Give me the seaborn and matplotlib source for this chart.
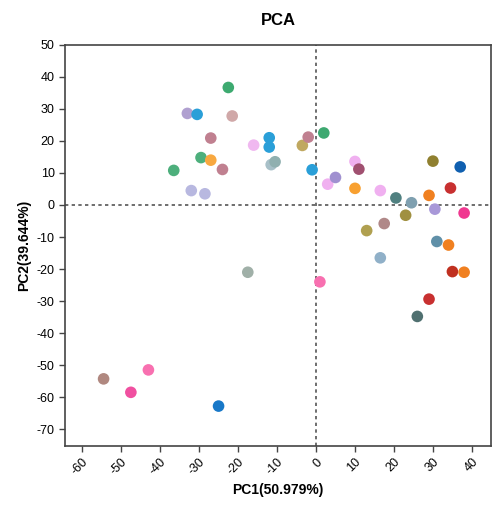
import matplotlib
matplotlib.use("Agg")
import matplotlib.pyplot as plt
import seaborn as sns
import pandas as pd

pc1 = [-36.5,-33,-30.5,-32,-29.5,-28.5,-27,-27,-24,-22.5,-21.5,-16,-12,-12,-11.5,-10.5,-3.5,-2,-1,2,
       3,5,10,11,10,16.5,20.5,24.5,23,13,17.5,30,29,34.5,37,30.5,38,31,34,16.5,35,38,29,26,
       -17.5,1,-54.5,-47.5,-43,-25]
pc2 = [10.8,28.6,28.3,4.5,14.8,3.5,20.9,14,11.1,36.7,27.8,18.7,21,18.1,12.6,13.5,18.6,21.2,11,22.5,
       6.5,8.6,13.6,11.2,5.2,4.5,2.2,0.7,-3.2,-8,-5.8,13.7,3,5.3,11.9,-1.3,-2.5,-11.4,-12.5,-16.5,
       -20.8,-21,-29.4,-34.8,-21,-24,-54.3,-58.5,-51.5,-62.8]
colors = ["#4daf7c","#b0a0d0","#2a9fd8","#b8b8e0","#4daf7c","#b8b8e0","#c08090","#f8a840","#c08090","#3daa70",
          "#d0a8a8","#f0b8f0","#2a9fd8","#2a9fd8","#a8c0c8","#90b0b0","#c0a860","#c08090","#2a9fd8","#3da870",
          "#f0b0f0","#a090d0","#f0b0f0","#a05070","#f8a030","#f0b0f0","#508080","#7fa0b0","#a09040","#b0a050",
          "#b08888","#908030","#f08020","#c83030","#1060b0","#a898d8","#f03890","#6090a8","#f08020","#90b0c8",
          "#c03020","#f08020","#c83030","#507070","#a0b0a8","#f870b0","#b08880","#f050a0","#f870b0","#1878c8"]
xticks = [-60,-50,-40,-30,-20,-10,0,10,20,30,40]
yticks = [50,40,30,20,10,0,-10,-20,-30,-40,-50,-60,-70]

df = pd.DataFrame({"x": pc1, "y": pc2, "c": [str(i) for i in range(len(pc1))]})
sns.set_style("white")
plt.rcParams['font.family'] = ['Liberation Sans', 'DejaVu Sans']
plt.rcParams['text.color'] = 'black'
fig = plt.figure(figsize=(5, 5.22), dpi=100)
ax = fig.add_axes([0.13, 0.146, 0.852, 0.768])
sns.scatterplot(data=df, x="x", y="y", hue="c", palette=colors, s=70, edgecolor="none", legend=False, ax=ax, zorder=3)
ax.axhline(0, color="#555555", ls=(0, (2, 2)), lw=1.2, zorder=1)
ax.axvline(0, color="#555555", ls=(0, (2, 2)), lw=1.2, zorder=1)
ax.set_xlim(-64.4, 44.9)
ax.set_ylim(-75.2, 50)
ax.set_xticks(xticks)
ax.set_yticks(yticks)
ax.set_xticklabels([str(t) for t in xticks], rotation=45, ha="right", rotation_mode="anchor", fontsize=9)
ax.set_yticklabels([str(t) for t in yticks], fontsize=9)
ax.tick_params(axis="both", direction="out", length=4, width=1, color="#444444",
               labelcolor="black", bottom=True, left=True)
for s in ax.spines.values():
    s.set_color("#444444"); s.set_linewidth(1.2)
ax.set_xlabel("PC1(50.979%)", fontweight="bold", fontsize=10, labelpad=4, color="black")
ax.set_ylabel("PC2(39.644%)", fontweight="bold", fontsize=10, color="black")
ax.set_title("PCA", fontweight="bold", fontsize=12, pad=14, color="black")
fig.savefig("out.png", dpi=100)
